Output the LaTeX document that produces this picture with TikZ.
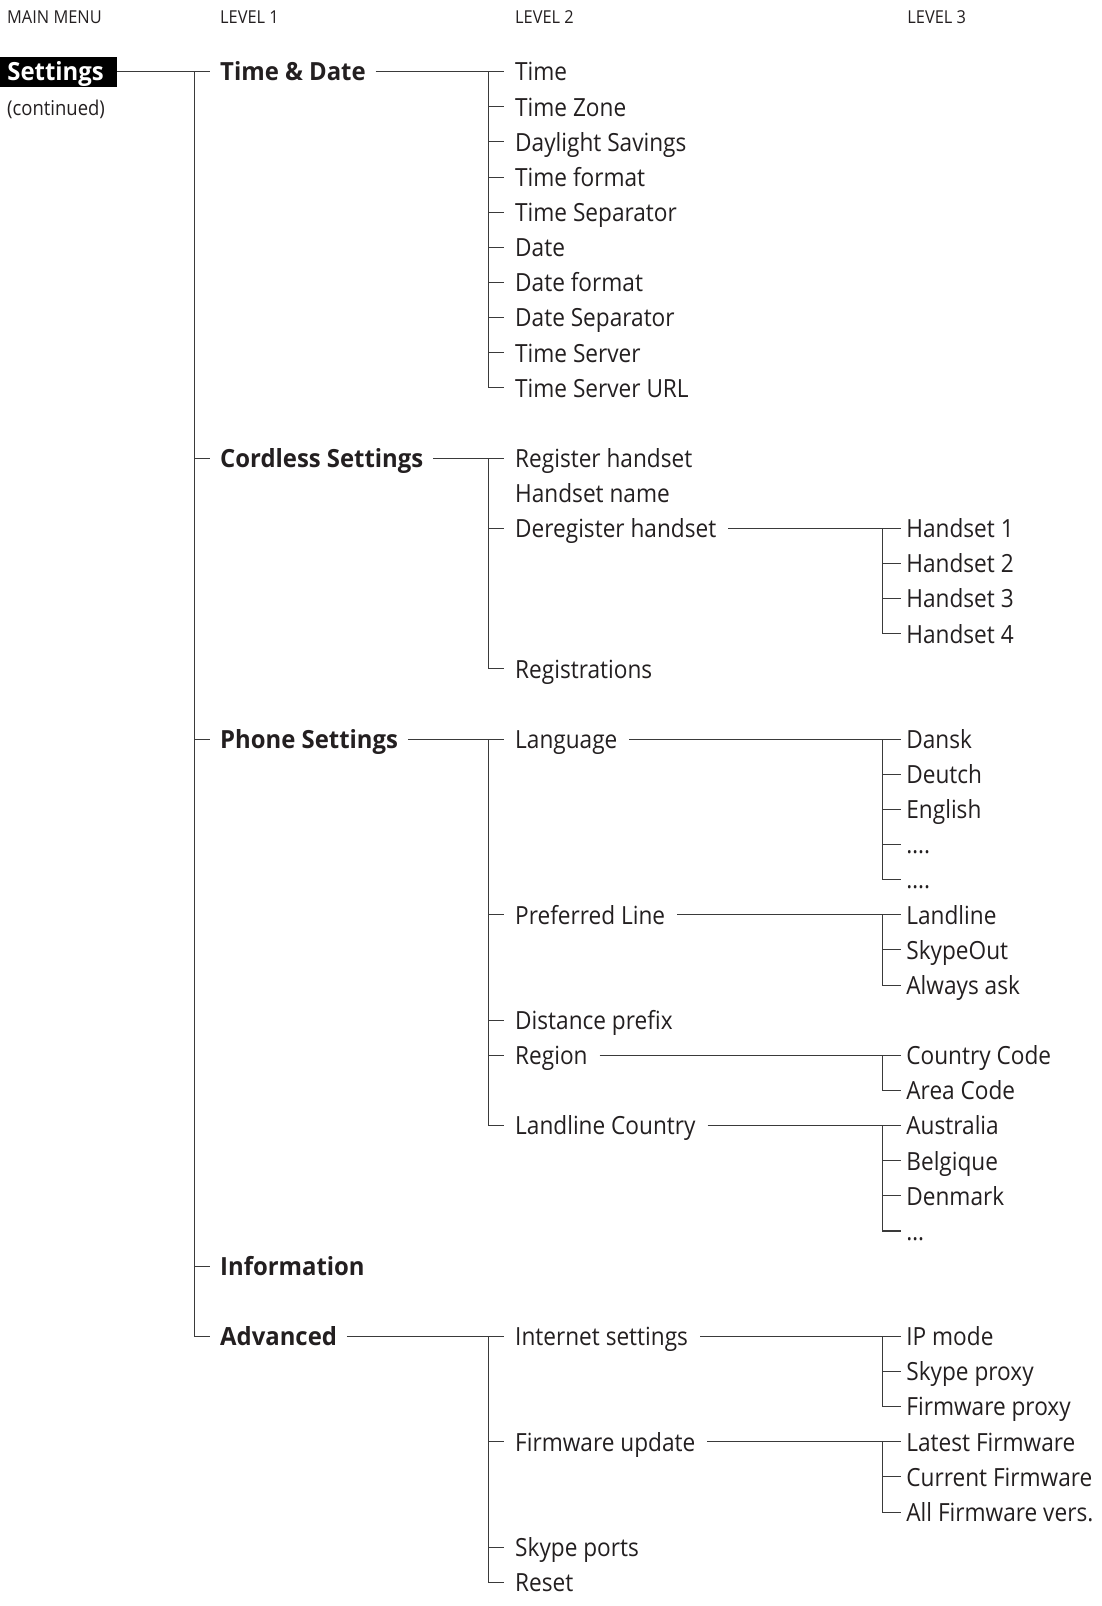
\documentclass[tikz,border=0pt]{standalone}
\usepackage{fontspec}
\setmainfont{Open Sans}
\newfontfamily\condfont[FakeStretch=0.905]{Open Sans}
\newfontfamily\condbold[FakeStretch=0.955]{Open Sans Bold}
\newfontfamily\hdrfont[FakeStretch=0.92]{Open Sans}
\begin{document}
\definecolor{txt}{HTML}{231F20}
\definecolor{ln}{HTML}{3A3A3A}
\begin{tikzpicture}[x=1pt,y=-35.13pt,
  every node/.style={inner sep=0pt,outer sep=0pt,anchor=west,text=txt},
  lone/.style={font=\condbold\fontsize{25}{25}\selectfont,text height=20pt,text depth=1.4pt},
  ltwo/.style={font=\condfont\fontsize{25}{25}\selectfont,text height=20pt,text depth=1.4pt},
  hdr/.style={font=\hdrfont\fontsize{17.8}{17.8}\selectfont,text height=13.5pt,text depth=0.8pt},
  conn/.style={draw=ln,line width=1.05pt}]
\useasboundingbox (0,-2.0410) rectangle (1102,43.675);
% headers
\node[hdr] (h0) at (7.2,-1.546) {MAIN MENU};
\node[hdr] (h1) at (220.2,-1.546) {LEVEL 1};
\node[hdr] (h2) at (515.2,-1.546) {LEVEL 2};
\node[hdr] (h3) at (907.4,-1.546) {LEVEL 3};
% main
\node[fill=black,anchor=west,minimum width=116.8pt,minimum height=30pt,lone,text=white] (set) at (0,0) {\makebox[102pt][l]{Settings}};
\node[font=\condfont\fontsize{20.4}{20.4}\selectfont,text height=15.5pt,text depth=1pt] (cont) at (7.2,1.05) {(continued)};
% bars
\coordinate (b1) at (194.6,0);
\coordinate (b2) at (488.5,0);
\coordinate (b3) at (882.9,0);
% level 1
\node[lone] (td) at (220.2,0) {Time \& Date};
\node[lone] (cs) at (220.2,11) {Cordless Settings};
\node[lone] (ps) at (220.2,19) {Phone Settings};
\node[lone] (inf) at (220.2,34) {Information};
\node[lone] (adv) at (220.2,36) {Advanced};
% level 2
\node[ltwo] (tdA) at (515.2,0) {Time};
\node[ltwo] (tdB) at (515.2,1) {Time Zone};
\node[ltwo] (tdC) at (515.2,2) {Daylight Savings};
\node[ltwo] (tdD) at (515.2,3) {Time format};
\node[ltwo] (tdE) at (515.2,4) {Time Separator};
\node[ltwo] (tdF) at (515.2,5) {Date};
\node[ltwo] (tdG) at (515.2,6) {Date format};
\node[ltwo] (tdH) at (515.2,7) {Date Separator};
\node[ltwo] (tdI) at (515.2,8) {Time Server};
\node[ltwo] (tdJ) at (515.2,9) {Time Server URL};
\node[ltwo] (csA) at (515.2,11) {Register handset};
\node[ltwo] (csB) at (515.2,12) {Handset name};
\node[ltwo] (csC) at (515.2,13) {Deregister handset};
\node[ltwo] (csD) at (515.2,17) {Registrations};
\node[ltwo] (psA) at (515.2,19) {Language};
\node[ltwo] (psB) at (515.2,24) {Preferred Line};
\node[ltwo] (psC) at (515.2,27) {Distance prefix};
\node[ltwo] (psD) at (515.2,28) {Region};
\node[ltwo] (psE) at (515.2,30) {Landline Country};
\node[ltwo] (adA) at (515.2,36) {Internet settings};
\node[ltwo] (adB) at (515.2,39) {Firmware update};
\node[ltwo] (adC) at (515.2,42) {Skype ports};
\node[ltwo] (adD) at (515.2,43) {Reset};
% level 3
\node[ltwo] (hs1) at (906.4,13) {Handset 1};
\node[ltwo] (hs2) at (906.4,14) {Handset 2};
\node[ltwo] (hs3) at (906.4,15) {Handset 3};
\node[ltwo] (hs4) at (906.4,16) {Handset 4};
\node[ltwo] (lgA) at (906.4,19) {Dansk};
\node[ltwo] (lgB) at (906.4,20) {Deutch};
\node[ltwo] (lgC) at (906.4,21) {English};
\node[ltwo] (lgD) at (906.4,22) {….};
\node[ltwo] (lgE) at (906.4,23) {….};
\node[ltwo] (plA) at (906.4,24) {Landline};
\node[ltwo] (plB) at (906.4,25) {SkypeOut};
\node[ltwo] (plC) at (906.4,26) {Always ask};
\node[ltwo] (rgA) at (906.4,28) {Country Code};
\node[ltwo] (rgB) at (906.4,29) {Area Code};
\node[ltwo] (lcA) at (906.4,30) {Australia};
\node[ltwo] (lcB) at (906.4,31) {Belgique};
\node[ltwo] (lcC) at (906.4,32) {Denmark};
\node[ltwo] (lcD) at (906.4,33) {…};
\node[ltwo] (isA) at (906.4,36) {IP mode};
\node[ltwo] (isB) at (906.4,37) {Skype proxy};
\node[ltwo] (isC) at (906.4,38) {Firmware proxy};
\node[ltwo] (fuA) at (906.4,39) {Latest Firmware};
\node[ltwo] (fuB) at (906.4,40) {Current Firmware};
\node[ltwo] (fuC) at (906.4,41) {All Firmware vers.};
% ---- connectors level 1
\draw[conn] (set.east) -- ([xshift=-10pt]td.west);
\draw[conn] (b1 |- td.west) -- (b1 |- adv.west) -- ([xshift=-10pt]adv.west);
\foreach \n in {cs,ps,inf} \draw[conn] (b1 |- \n.west) -- ([xshift=-10pt]\n.west);
% ---- connectors level 2
\draw[conn] ([xshift=10pt]td.east) -- ([xshift=-11pt]tdA.west);
\draw[conn] (b2 |- tdA.west) -- (b2 |- tdJ.west) -- ([xshift=-11pt]tdJ.west);
\foreach \n in {tdB,tdC,tdD,tdE,tdF,tdG,tdH,tdI} \draw[conn] (b2 |- \n.west) -- ([xshift=-11pt]\n.west);
\draw[conn] ([xshift=10pt]cs.east) -- ([xshift=-11pt]csA.west);
\draw[conn] (b2 |- csA.west) -- (b2 |- csD.west) -- ([xshift=-11pt]csD.west);
\draw[conn] (b2 |- csC.west) -- ([xshift=-11pt]csC.west);
\draw[conn] ([xshift=10pt]ps.east) -- ([xshift=-11pt]psA.west);
\draw[conn] (b2 |- psA.west) -- (b2 |- psE.west) -- ([xshift=-11pt]psE.west);
\foreach \n in {psB,psC,psD} \draw[conn] (b2 |- \n.west) -- ([xshift=-11pt]\n.west);
\draw[conn] ([xshift=10pt]adv.east) -- ([xshift=-11pt]adA.west);
\draw[conn] (b2 |- adA.west) -- (b2 |- adD.west) -- ([xshift=-11pt]adD.west);
\foreach \n in {adB,adC} \draw[conn] (b2 |- \n.west) -- ([xshift=-11pt]\n.west);
% ---- connectors level 3
\draw[conn] ([xshift=12pt]csC.east) -- ([xshift=-5pt]hs1.west);
\draw[conn] (b3 |- hs1.west) -- (b3 |- hs4.west) -- ([xshift=-5pt]hs4.west);
\foreach \n in {hs2,hs3} \draw[conn] (b3 |- \n.west) -- ([xshift=-5pt]\n.west);
\draw[conn] ([xshift=12pt]psA.east) -- ([xshift=-5pt]lgA.west);
\draw[conn] (b3 |- lgA.west) -- (b3 |- lgE.west) -- ([xshift=-5pt]lgE.west);
\foreach \n in {lgB,lgC,lgD} \draw[conn] (b3 |- \n.west) -- ([xshift=-5pt]\n.west);
\draw[conn] ([xshift=12pt]psB.east) -- ([xshift=-5pt]plA.west);
\draw[conn] (b3 |- plA.west) -- (b3 |- plC.west) -- ([xshift=-5pt]plC.west);
\draw[conn] (b3 |- plB.west) -- ([xshift=-5pt]plB.west);
\draw[conn] ([xshift=12pt]psD.east) -- ([xshift=-5pt]rgA.west);
\draw[conn] (b3 |- rgA.west) -- (b3 |- rgB.west) -- ([xshift=-5pt]rgB.west);
\draw[conn] ([xshift=12pt]psE.east) -- ([xshift=-5pt]lcA.west);
\draw[conn] (b3 |- lcA.west) -- (b3 |- lcD.west) -- ([xshift=-5pt]lcD.west);
\foreach \n in {lcB,lcC} \draw[conn] (b3 |- \n.west) -- ([xshift=-5pt]\n.west);
\draw[conn] ([xshift=12pt]adA.east) -- ([xshift=-5pt]isA.west);
\draw[conn] (b3 |- isA.west) -- (b3 |- isC.west) -- ([xshift=-5pt]isC.west);
\draw[conn] (b3 |- isB.west) -- ([xshift=-5pt]isB.west);
\draw[conn] ([xshift=12pt]adB.east) -- ([xshift=-5pt]fuA.west);
\draw[conn] (b3 |- fuA.west) -- (b3 |- fuC.west) -- ([xshift=-5pt]fuC.west);
\draw[conn] (b3 |- fuB.west) -- ([xshift=-5pt]fuB.west);
\end{tikzpicture}
\end{document}
